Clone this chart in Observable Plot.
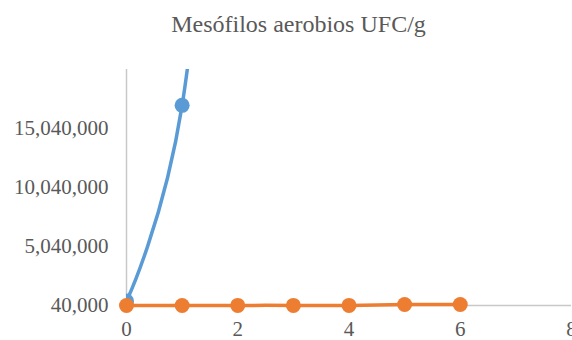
<!DOCTYPE html>
<html>
<head>
<meta charset="utf-8">
<script src="https://cdn.jsdelivr.net/npm/d3@7"></script>
<script src="https://cdn.jsdelivr.net/npm/@observablehq/plot@0.6"></script>
<style>
  html, body { margin: 0; padding: 0; background: #fff; width: 572px; height: 340px; overflow: hidden; }
  #title { font-family: "Liberation Serif", "Times New Roman", serif; font-size: 24px; color: #595959;
           height: 55px; box-sizing: border-box; padding-top: 10px; line-height: 28px; text-align: center; padding-left: 25px; white-space: nowrap; }
  #chart svg, #chart svg text { font-family: "Liberation Serif", "Times New Roman", serif !important; }
</style>
</head>
<body>
<div id="title">Mesófilos aerobios UFC/g</div>
<div id="chart"></div>
<script>
const days = [0, 1, 2, 3, 4, 5, 6];
const blueX = [0, 1, 2];
const blueValues = [420000, 17000000, 60000000];
const orangeValues = [40000, 40000, 50000, 50000, 50000, 120000, 130000];
const xTicks = [0, 2, 4, 6, 8];
const yTicks = [40000, 5040000, 10040000, 15040000];

const blue = blueX.map((d, i) => ({x: d, y: blueValues[i]}));
const orange = days.map((d, i) => ({x: d, y: orangeValues[i]}));

const chart = Plot.plot({
  width: 572,
  height: 285,
  marginTop: 14,
  marginLeft: 126,
  marginRight: 1,
  marginBottom: 35,
  style: {fontFamily: "Liberation Serif", fontSize: "21px", color: "#595959", background: "white"},
  x: {domain: [0, 8], ticks: xTicks, tickSize: 0, tickPadding: 16, label: null},
  y: {domain: [40000, 20040000], ticks: yTicks, tickFormat: d3.format(","), tickSize: 0, tickPadding: 18, label: null},
  marks: [
    Plot.ruleY([40000], {stroke: "#c8c8c8", strokeWidth: 1.5}),
    Plot.ruleX([0], {stroke: "#c8c8c8", strokeWidth: 1.5}),
    Plot.line(blue, {x: "x", y: "y", stroke: "#5B9BD5", strokeWidth: 3.5, curve: "cardinal", clip: true}),
    Plot.dot(blue, {x: "x", y: "y", fill: "#5B9BD5", r: 7.5, clip: true}),
    Plot.line(orange, {x: "x", y: "y", stroke: "#ED7D31", strokeWidth: 3.5, curve: "cardinal"}),
    Plot.dot(orange, {x: "x", y: "y", fill: "#ED7D31", r: 7.5})
  ]
});
document.getElementById("chart").appendChild(chart);
</script>
</body>
</html>
